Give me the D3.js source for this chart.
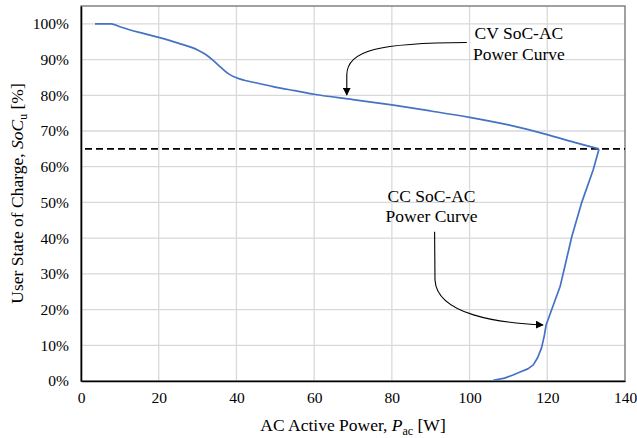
<!DOCTYPE html>
<html>
<head>
<meta charset="utf-8">
<script src="https://cdn.jsdelivr.net/npm/d3@7"></script>
<style>
  body { margin: 0; background: white; }
</style>
</head>
<body>
<div id="container"></div>
<script>
// CV curve: AC power [W] vs user SoC
var cvPower = [3.6, 7.8, 10, 15, 20, 25, 30, 32, 34, 36, 38, 40, 42, 45, 50, 55, 60, 70, 80, 90, 100, 110, 120, 127, 133.3];
var cvSoc   = [1.0, 1.0, 0.992, 0.976, 0.962, 0.946, 0.927, 0.915, 0.898, 0.878, 0.86, 0.849, 0.842, 0.835, 0.823, 0.813, 0.803, 0.788, 0.773, 0.756, 0.738, 0.717, 0.69, 0.668, 0.65];

// CC curve
var ccPower = [106.1, 109, 111.2, 113, 115, 116.4, 117.5, 118.5, 119.2, 119.7, 121.1, 123.2, 123.4, 124.5, 126.3, 128.8, 131.8, 133.3];
var ccSoc   = [0.002, 0.008, 0.017, 0.025, 0.034, 0.045, 0.065, 0.092, 0.125, 0.157, 0.199, 0.262, 0.269, 0.32, 0.404, 0.498, 0.591, 0.649];

var thresholdSoc = 0.65;
var xTicks = [0, 20, 40, 60, 80, 100, 120, 140];
var yTicks = [0, 0.1, 0.2, 0.3, 0.4, 0.5, 0.6, 0.7, 0.8, 0.9, 1.0];

var serif = "'Times New Roman', Times, 'Liberation Serif', Tinos, 'Nimbus Roman', 'Nimbus Roman No9 L', FreeSerif, 'DejaVu Serif', 'Noto Serif', 'Noto Serif CJK SC', serif";

var svgWidth = 637,
    svgHeight = 438,
    margin = { top: 6, right: 12, bottom: 57, left: 81 },
    width = svgWidth - margin.left - margin.right,
    height = svgHeight - margin.top - margin.bottom;

var svg = d3.select('#container').append('svg')
    .attr('width', svgWidth).attr('height', svgHeight)
    .style('font-family', serif)
    .style('background-color', 'white');

var g = svg.append('g').attr('transform', 'translate(' + margin.left + ',' + margin.top + ')');

var x = d3.scaleLinear().domain([0, 140]).range([0, width]);
var y = d3.scaleLinear().domain([0, 1.05]).range([height, 0]);

// grid
g.append('g').selectAll('line').data(xTicks.slice(1, -1)).enter().append('line')
    .attr('x1', function(d) { return x(d); }).attr('x2', function(d) { return x(d); })
    .attr('y1', 0).attr('y2', height)
    .attr('stroke', '#d9d9d9').attr('stroke-width', 1.3);
g.append('g').selectAll('line').data(yTicks.slice(1)).enter().append('line')
    .attr('x1', 0).attr('x2', width)
    .attr('y1', function(d) { return y(d); }).attr('y2', function(d) { return y(d); })
    .attr('stroke', '#d9d9d9').attr('stroke-width', 1.3);

// plot border
g.append('rect').attr('width', width).attr('height', height)
    .attr('fill', 'none').attr('stroke', '#6f6f6f').attr('stroke-width', 1.3);

// axes
var xAxis = g.append('g').attr('transform', 'translate(0,' + height + ')')
    .call(d3.axisBottom(x).tickValues(xTicks).tickSize(0).tickPadding(11));
var yAxis = g.append('g')
    .call(d3.axisLeft(y).tickValues(yTicks).tickSize(0).tickPadding(12).tickFormat(d3.format('.0%')));
[xAxis, yAxis].forEach(function(a) {
  a.attr('font-family', null).attr('font-size', 15.5);
  a.select('.domain').attr('stroke', '#000').attr('stroke-width', 1.6);
  a.selectAll('text').attr('fill', '#000');
});

// threshold
g.append('line')
    .attr('x1', x(0) + 4).attr('x2', width)
    .attr('y1', y(thresholdSoc)).attr('y2', y(thresholdSoc))
    .attr('stroke', '#000').attr('stroke-width', 1.6).attr('stroke-dasharray', '7,4');

// curves
var line = d3.line()
    .x(function(d) { return x(d[0]); })
    .y(function(d) { return y(d[1]); });

g.append('path').datum(d3.zip(cvPower, cvSoc))
    .attr('fill', 'none').attr('stroke', '#4472C4').attr('stroke-width', 1.7)
    .attr('stroke-linejoin', 'round').attr('d', line.curve(d3.curveMonotoneX));
g.append('path').datum(d3.zip(ccPower, ccSoc))
    .attr('fill', 'none').attr('stroke', '#4472C4').attr('stroke-width', 1.7)
    .attr('stroke-linejoin', 'round').attr('d', line.curve(d3.curveLinear));

// annotations
svg.append('defs').append('marker')
    .attr('id', 'arr').attr('viewBox', '0 0 10 10').attr('refX', 9).attr('refY', 5)
    .attr('markerWidth', 8).attr('markerHeight', 8).attr('markerUnits', 'userSpaceOnUse')
    .attr('orient', 'auto')
  .append('path').attr('d', 'M0,0 L10,5 L0,10 Z').attr('fill', '#000');

function pt(p) { return x(p[0]) + ',' + y(p[1]); }

g.append('path')
    .attr('d', 'M' + pt([99.3, 0.948]) + ' C' + pt([76.9, 0.947]) + ' ' + pt([68.4, 0.927]) + ' ' + pt([68.4, 0.857]) +
               ' L' + pt([68.4, 0.801]))
    .attr('fill', 'none').attr('stroke', '#000').attr('stroke-width', 1.1).attr('marker-end', 'url(#arr)');

g.append('path')
    .attr('d', 'M' + pt([91, 0.418]) + ' L' + pt([91.1, 0.283]) + ' C' + pt([91.6, 0.185]) + ' ' + pt([107.8, 0.162]) + ' ' + pt([118.9, 0.157]))
    .attr('fill', 'none').attr('stroke', '#000').attr('stroke-width', 1.1).attr('marker-end', 'url(#arr)');

function label(cx, lines) {
  lines.forEach(function(l) {
    g.append('text').attr('x', x(cx)).attr('y', y(l[1]))
        .attr('text-anchor', 'middle').attr('font-size', 17.5).text(l[0]);
  });
}
label(112.7, [['CV SoC-AC', 0.958], ['Power Curve', 0.899]]);
label(90.2, [['CC SoC-AC', 0.502], ['Power Curve', 0.446]]);

// axis titles
var xt = svg.append('text').attr('x', margin.left + width / 2).attr('y', 431)
    .attr('text-anchor', 'middle').attr('font-size', 17.5);
xt.append('tspan').text('AC Active Power, ');
xt.append('tspan').attr('font-style', 'italic').text('P');
xt.append('tspan').attr('dy', 4).attr('font-size', 12).text('ac');
xt.append('tspan').attr('dy', -4).text(' [W]');

var yt = svg.append('text')
    .attr('transform', 'translate(23,' + (margin.top + height / 2) + ') rotate(-90)')
    .attr('text-anchor', 'middle').attr('font-size', 17.5);
yt.append('tspan').text('User State of Charge, ');
yt.append('tspan').attr('font-style', 'italic').text('SoC');
yt.append('tspan').attr('dy', 4).attr('font-size', 12).text('u');
yt.append('tspan').attr('dy', -4).text(' [%]');
</script>
</body>
</html>
